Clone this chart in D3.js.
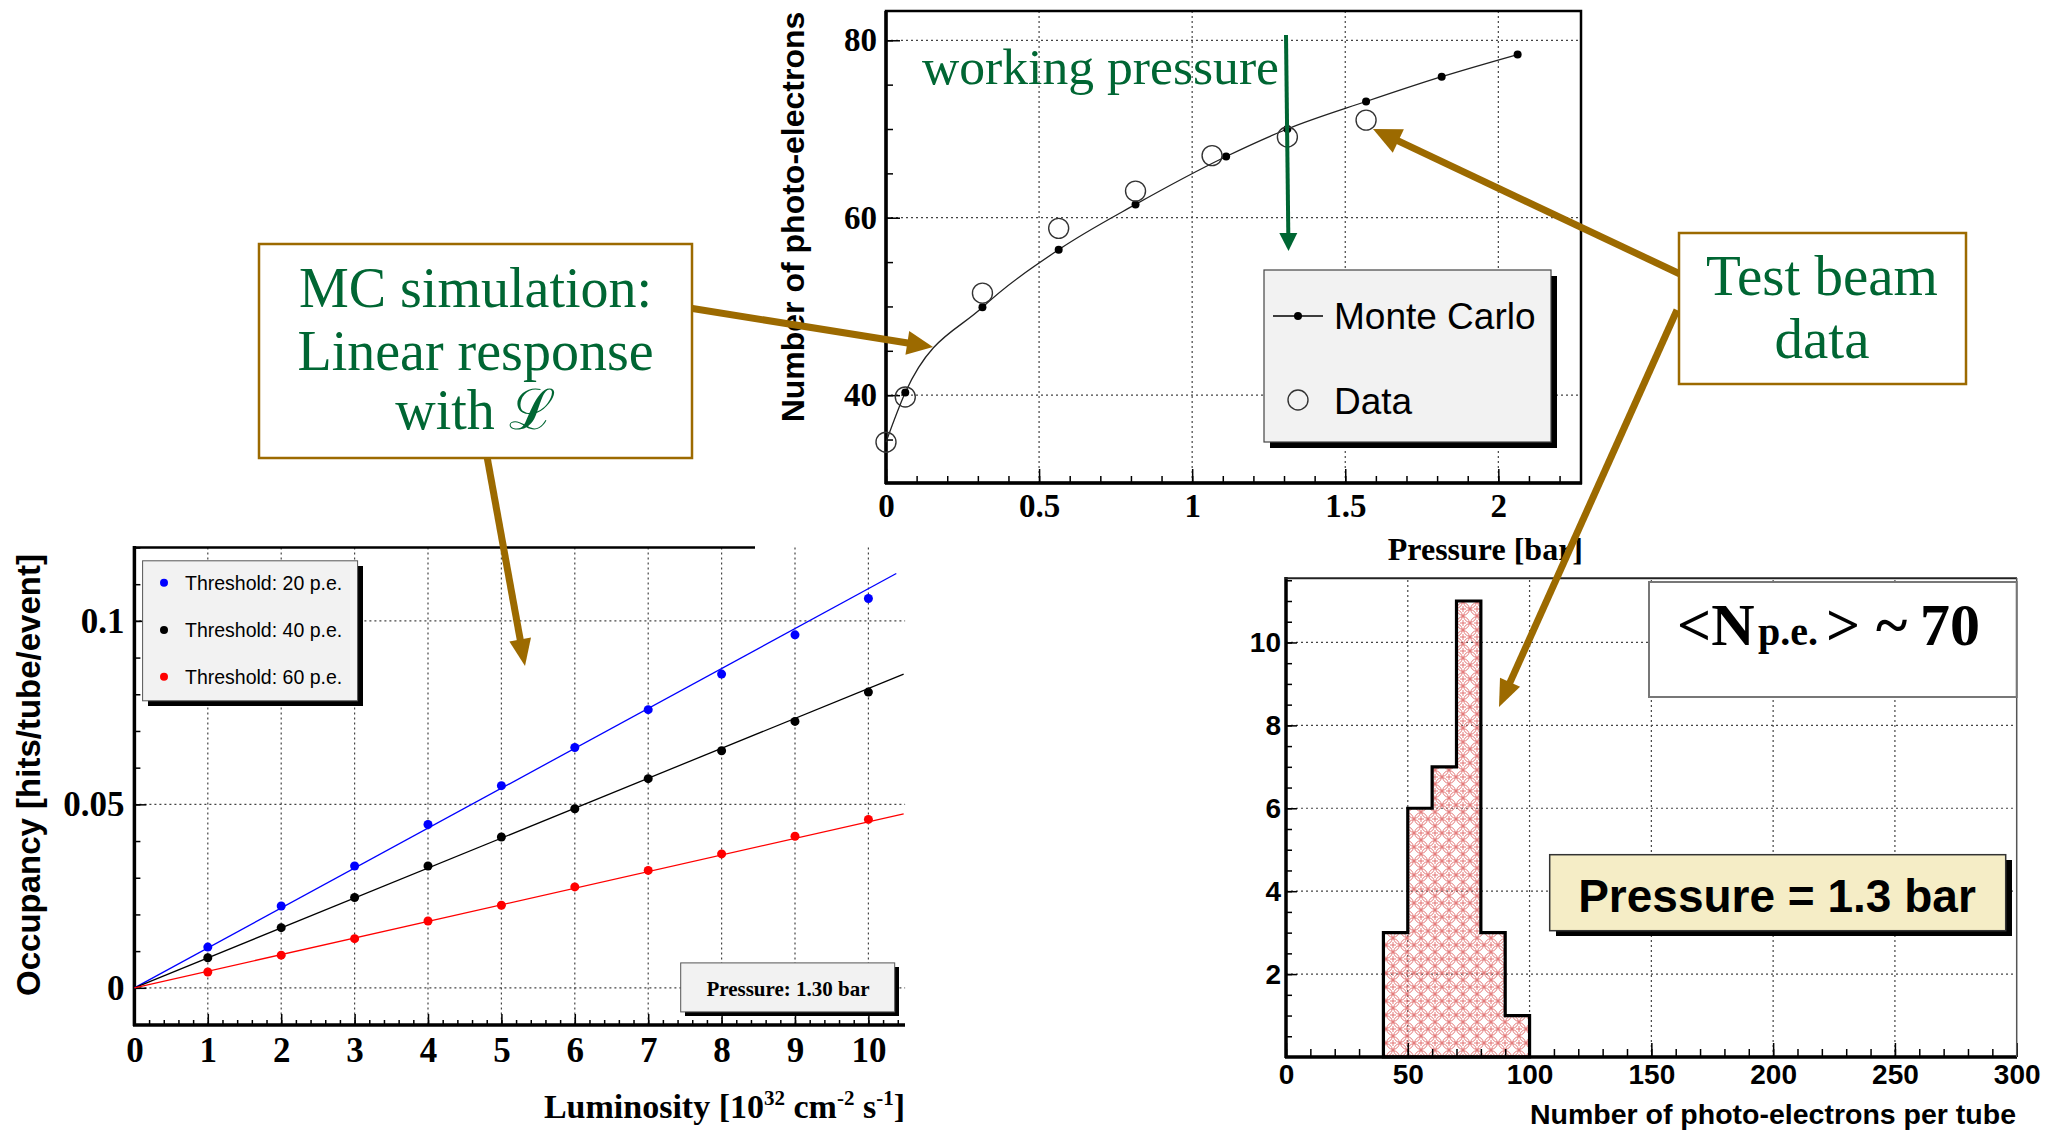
<!DOCTYPE html>
<html>
<head>
<meta charset="utf-8">
<script src="https://cdn.jsdelivr.net/npm/d3@7"></script>
<style>
  body { margin: 0; background: #fff; }
  svg { display: block; }
</style>
</head>
<body>
<div id="chart"></div>
<script>
// ---------- data: top panel (photo-electrons vs pressure)
const pressureTicks = [0, 0.5, 1, 1.5, 2];
const npeTicks = [40, 60, 80];
const mcPressure = [0, 0.063, 0.315, 0.564, 0.815, 1.111, 1.311, 1.568, 1.815, 2.063];
const mcNpe = [34.7, 40.3, 49.9, 56.4, 61.5, 66.9, 70.0, 73.1, 75.9, 78.4];
const dataPressure = [0, 0.063, 0.315, 0.564, 0.815, 1.065, 1.311, 1.568];
const dataNpe = [34.7, 39.8, 51.5, 58.8, 63.0, 67.0, 69.1, 71.0];

// ---------- data: bottom-left panel (occupancy vs luminosity)
const lumi = [1, 2, 3, 4, 5, 6, 7, 8, 9, 10];
const occ20 = [0.0111, 0.0223, 0.0332, 0.0445, 0.0551, 0.0655, 0.0758, 0.0855, 0.0962, 0.1061];
const occ40 = [0.0082, 0.0164, 0.0246, 0.0332, 0.0411, 0.0488, 0.0570, 0.0646, 0.0726, 0.0806];
const occ60 = [0.0043, 0.0089, 0.0134, 0.0182, 0.0225, 0.0275, 0.0320, 0.0365, 0.0413, 0.0459];
const thresholdLabels = ["Threshold: 20 p.e.", "Threshold: 40 p.e.", "Threshold: 60 p.e."];
const fitLumiEnd = [10.38, 10.48, 10.48];
const fitOccEnd = [0.1129, 0.0855, 0.0474];
const lumiTicks = [0, 1, 2, 3, 4, 5, 6, 7, 8, 9, 10];
const occTicks = [0, 0.05, 0.1];

// ---------- data: bottom-right panel (histogram)
const binLow = [40, 50, 60, 70, 80, 90];
const binHigh = [50, 60, 70, 80, 90, 100];
const binCount = [3, 6, 7, 11, 3, 1];
const npeAxisTicks = [0, 50, 100, 150, 200, 250, 300];
const countTicks = [2, 4, 6, 8, 10];

const serif = "'Liberation Serif','Times New Roman',serif";
const sans = "'Liberation Sans',Arial,sans-serif";
const green = "#006633";
const brown = "#9c6a00";

var svg = d3.select("#chart")
    .append("svg")
    .attr("width", 2059)
    .attr("height", 1132);

svg.append("rect").attr("width", 2059).attr("height", 1132).attr("fill", "#fff");

// hatch pattern for the histogram (ROOT style overlapping circles)
var defs = svg.append("defs");
var pat = defs.append("pattern")
    .attr("id", "circ")
    .attr("patternUnits", "userSpaceOnUse")
    .attr("x", 0).attr("y", 0)
    .attr("width", 14).attr("height", 14);
[[7, 7], [0, 0], [14, 0], [0, 14], [14, 14]].forEach(function (c) {
    pat.append("circle").attr("cx", c[0]).attr("cy", c[1]).attr("r", 6.3)
        .attr("fill", "none").attr("stroke", "#e06868").attr("stroke-width", 0.9);
});
pat.append("path").attr("d", "M7,4 V10 M4,7 H10")
    .attr("stroke", "#e06868").attr("stroke-width", 0.9);

// small helper: draw a d3 axis in ROOT look
function drawAxis(g, axis, tr, font, size) {
    var a = g.append("g").attr("transform", tr).call(axis);
    a.select(".domain").remove();
    a.selectAll(".tick line").attr("stroke", "#000").attr("stroke-width", 1.5);
    a.selectAll(".tick text")
        .attr("fill", "#000")
        .style("font-family", font)
        .style("font-size", size + "px")
        .style("font-weight", "bold");
    return a;
}

function gridLines(g, xs, ys, x, y) {
    g.selectAll(null).data(xs).enter().append("line")
        .attr("x1", d => x(d)).attr("x2", d => x(d))
        .attr("y1", y.range()[0]).attr("y2", y.range()[1])
        .attr("stroke", "#444").attr("stroke-width", 1.2).attr("stroke-dasharray", "2,3");
    g.selectAll(null).data(ys).enter().append("line")
        .attr("y1", d => y(d)).attr("y2", d => y(d))
        .attr("x1", x.range()[0]).attr("x2", x.range()[1])
        .attr("stroke", "#444").attr("stroke-width", 1.2).attr("stroke-dasharray", "2,3");
}

// =====================================================================
// TOP PANEL
// =====================================================================
var px = d3.scaleLinear().domain([0, 2.27]).range([886, 1581]);
var py = d3.scaleLinear().domain([30.1, 83.3]).range([483, 11]);
var topG = svg.append("g");

gridLines(topG, pressureTicks.slice(1), npeTicks, px, py);

// minor + major ticks
drawAxis(topG, d3.axisBottom(px).tickValues(d3.range(0, 2.27, 0.1)).tickSize(-7).tickFormat(""), "translate(0,483)", serif, 33);
drawAxis(topG, d3.axisBottom(px).tickValues(pressureTicks).tickSize(-14).tickPadding(11).tickFormat(d => String(d)), "translate(0,483)", serif, 33);
drawAxis(topG, d3.axisLeft(py).tickValues(d3.range(35, 84, 5)).tickSize(-7).tickFormat(""), "translate(886,0)", serif, 33);
drawAxis(topG, d3.axisLeft(py).tickValues(npeTicks).tickSize(-14).tickPadding(9), "translate(886,0)", serif, 33);

// frame
topG.append("rect").attr("x", 886).attr("y", 11).attr("width", 695).attr("height", 472)
    .attr("fill", "none").attr("stroke", "#000").attr("stroke-width", 2.5);
topG.append("line").attr("x1", 886).attr("x2", 886).attr("y1", 11).attr("y2", 484)
    .attr("stroke", "#000").attr("stroke-width", 3.5);
topG.append("line").attr("x1", 885).attr("x2", 1582).attr("y1", 483).attr("y2", 483)
    .attr("stroke", "#000").attr("stroke-width", 3.5);

// MC curve
var mcPts = mcPressure.map((p, i) => ({ p: p, n: mcNpe[i] }));
topG.append("path")
    .datum(mcPts)
    .attr("d", d3.line().x(d => px(d.p)).y(d => py(d.n)).curve(d3.curveMonotoneX))
    .attr("fill", "none").attr("stroke", "#222").attr("stroke-width", 1.3);
topG.selectAll(null).data(mcPts.filter(d => d.p > 0)).enter().append("circle")
    .attr("cx", d => px(d.p)).attr("cy", d => py(d.n)).attr("r", 4).attr("fill", "#000");

// test beam data
topG.selectAll(null).data(dataPressure).enter().append("circle")
    .attr("cx", d => px(d)).attr("cy", (d, i) => py(dataNpe[i])).attr("r", 10)
    .attr("fill", "none").attr("stroke", "#333").attr("stroke-width", 1.4);

// legend
topG.append("rect").attr("x", 1270).attr("y", 276).attr("width", 287).attr("height", 172).attr("fill", "#000");
topG.append("rect").attr("x", 1264).attr("y", 270).attr("width", 287).attr("height", 172)
    .attr("fill", "#f2f2f2").attr("stroke", "#444").attr("stroke-width", 1.2);
topG.append("line").attr("x1", 1273).attr("x2", 1323).attr("y1", 316).attr("y2", 316).attr("stroke", "#000").attr("stroke-width", 1.5);
topG.append("circle").attr("cx", 1298).attr("cy", 316).attr("r", 4).attr("fill", "#000");
topG.append("circle").attr("cx", 1298).attr("cy", 400).attr("r", 10).attr("fill", "none").attr("stroke", "#333").attr("stroke-width", 1.4);
topG.selectAll(null).data(["Monte Carlo", "Data"]).enter().append("text")
    .attr("x", 1334).attr("y", (d, i) => [329, 414][i])
    .style("font-family", sans).style("font-size", "37px")
    .text(d => d);

// axis titles
topG.append("text")
    .attr("transform", "translate(804,217) rotate(-90)")
    .attr("text-anchor", "middle")
    .style("font-family", sans).style("font-weight", "bold").style("font-size", "32px")
    .text("Number of photo-electrons");
topG.append("text")
    .attr("x", 1583).attr("y", 560).attr("text-anchor", "end")
    .style("font-family", serif).style("font-weight", "bold").style("font-size", "32px")
    .text("Pressure [bar]");

// =====================================================================
// BOTTOM-LEFT PANEL
// =====================================================================
var lx = d3.scaleLinear().domain([0, 10.5]).range([134.4, 905.1]);
var ly = d3.scaleLinear().domain([-0.01, 0.12]).range([1024.5, 547.5]);
var blG = svg.append("g");

gridLines(blG, lumiTicks.slice(1), occTicks, lx, ly);

drawAxis(blG, d3.axisBottom(lx).tickValues(d3.range(0, 10.5, 0.2)).tickSize(-5).tickFormat(""), "translate(0,1025)", serif, 35);
drawAxis(blG, d3.axisBottom(lx).tickValues(lumiTicks).tickSize(-11).tickPadding(12).tickFormat(d => String(d)), "translate(0,1025)", serif, 35);
drawAxis(blG, d3.axisLeft(ly).tickValues(d3.range(-0.01, 0.121, 0.01)).tickSize(-6).tickFormat(""), "translate(134.4,0)", serif, 35);
drawAxis(blG, d3.axisLeft(ly).tickValues(occTicks).tickSize(-12).tickPadding(10).tickFormat(d => String(d)), "translate(134.4,0)", serif, 35);

blG.append("line").attr("x1", 134.4).attr("x2", 134.4).attr("y1", 546).attr("y2", 1026).attr("stroke", "#000").attr("stroke-width", 3.5);
blG.append("line").attr("x1", 133).attr("x2", 905).attr("y1", 1025).attr("y2", 1025).attr("stroke", "#000").attr("stroke-width", 3.5);
blG.append("line").attr("x1", 133).attr("x2", 755).attr("y1", 547.5).attr("y2", 547.5).attr("stroke", "#000").attr("stroke-width", 2.5);

var series = [
    { vals: occ20, color: "#0000ff" },
    { vals: occ40, color: "#000000" },
    { vals: occ60, color: "#ff0000" }
];
series.forEach(function (s, k) {
    // linear fit line from the origin
    blG.append("line")
        .attr("x1", lx(0)).attr("y1", ly(0))
        .attr("x2", lx(fitLumiEnd[k])).attr("y2", ly(fitOccEnd[k]))
        .attr("stroke", s.color).attr("stroke-width", 1.3);
    blG.selectAll(null).data(lumi).enter().append("circle")
        .attr("cx", d => lx(d)).attr("cy", (d, i) => ly(s.vals[i])).attr("r", 4.5)
        .attr("fill", s.color);
});

// legend
blG.append("rect").attr("x", 148).attr("y", 566).attr("width", 215).attr("height", 140).attr("fill", "#000");
blG.append("rect").attr("x", 142.6).attr("y", 560.8).attr("width", 215).attr("height", 140)
    .attr("fill", "#f2f2f2").attr("stroke", "#555").attr("stroke-width", 1);
thresholdLabels.forEach(function (t, i) {
    var cy = [582.7, 629.9, 676.7][i];
    blG.append("circle").attr("cx", 164).attr("cy", cy).attr("r", 4).attr("fill", series[i].color);
    blG.append("text").attr("x", 185).attr("y", cy + 7)
        .style("font-family", sans).style("font-size", "19.5px").text(t);
});

// pressure label
blG.append("rect").attr("x", 685).attr("y", 967).attr("width", 214).attr("height", 49).attr("fill", "#000");
blG.append("rect").attr("x", 680.7).attr("y", 962.9).attr("width", 214).attr("height", 49)
    .attr("fill", "#f2f2f2").attr("stroke", "#555").attr("stroke-width", 1);
blG.append("text").attr("x", 788).attr("y", 996).attr("text-anchor", "middle")
    .style("font-family", serif).style("font-weight", "bold").style("font-size", "21px")
    .text("Pressure: 1.30 bar");

// axis titles
blG.append("text")
    .attr("transform", "translate(40,775) rotate(-90)")
    .attr("text-anchor", "middle")
    .style("font-family", sans).style("font-weight", "bold").style("font-size", "33px")
    .text("Occupancy [hits/tube/event]");
var lt = blG.append("text")
    .attr("x", 905).attr("y", 1118).attr("text-anchor", "end")
    .style("font-family", serif).style("font-weight", "bold").style("font-size", "34px");
lt.append("tspan").text("Luminosity [10");
lt.append("tspan").attr("dy", -13).style("font-size", "21px").text("32");
lt.append("tspan").attr("dy", 13).text(" cm");
lt.append("tspan").attr("dy", -13).style("font-size", "21px").text("-2");
lt.append("tspan").attr("dy", 13).text(" s");
lt.append("tspan").attr("dy", -13).style("font-size", "21px").text("-1");
lt.append("tspan").attr("dy", 13).text("]");

// =====================================================================
// BOTTOM-RIGHT PANEL (histogram)
// =====================================================================
var hx = d3.scaleLinear().domain([0, 300]).range([1286, 2016.7]);
var hy = d3.scaleLinear().domain([0, 11.55]).range([1057, 578.2]);
var hG = svg.append("g");

gridLines(hG, npeAxisTicks.slice(1, 6), countTicks, hx, hy);

// histogram outline
var hPath = d3.path();
hPath.moveTo(hx(binLow[0]), hy(0));
binLow.forEach(function (lo, i) {
    hPath.lineTo(hx(lo), hy(binCount[i]));
    hPath.lineTo(hx(binHigh[i]), hy(binCount[i]));
});
hPath.lineTo(hx(binHigh[binHigh.length - 1]), hy(0));
hPath.closePath();
hG.append("path").attr("d", hPath.toString()).attr("fill", "url(#circ)").attr("stroke", "none");
hG.append("path").attr("d", hPath.toString()).attr("fill", "none").attr("stroke", "#000").attr("stroke-width", 3.2);

drawAxis(hG, d3.axisBottom(hx).tickValues(d3.range(0, 301, 10)).tickSize(-8).tickFormat(""), "translate(0,1057)", sans, 28);
drawAxis(hG, d3.axisBottom(hx).tickValues(npeAxisTicks).tickSize(-14).tickPadding(7), "translate(0,1057)", sans, 28);
drawAxis(hG, d3.axisLeft(hy).tickValues(d3.range(0.5, 11.6, 0.5)).tickSize(-6).tickFormat(""), "translate(1286,0)", sans, 28);
drawAxis(hG, d3.axisLeft(hy).tickValues(countTicks).tickSize(-11).tickPadding(5), "translate(1286,0)", sans, 28);

hG.append("line").attr("x1", 1286).attr("x2", 1286).attr("y1", 577).attr("y2", 1058).attr("stroke", "#000").attr("stroke-width", 3.5);
hG.append("line").attr("x1", 1285).attr("x2", 2017).attr("y1", 1057).attr("y2", 1057).attr("stroke", "#000").attr("stroke-width", 3.5);
hG.append("line").attr("x1", 1285).attr("x2", 2017).attr("y1", 578.2).attr("y2", 578.2).attr("stroke", "#222").attr("stroke-width", 2);
hG.append("line").attr("x1", 2016.7).attr("x2", 2016.7).attr("y1", 578).attr("y2", 1057).attr("stroke", "#555").attr("stroke-width", 1.5);

// <N p.e.> box
hG.append("rect").attr("x", 1649).attr("y", 582).attr("width", 367.7).attr("height", 115)
    .attr("fill", "#fff").attr("stroke", "#777").attr("stroke-width", 2);
var nt = hG.append("text").attr("y", 645)
    .style("font-family", serif).style("font-weight", "bold").style("font-size", "60px");
nt.append("tspan").attr("x", 1677).text("<N");
nt.append("tspan").attr("x", 1758).style("font-size", "40px").text("p.e.");
nt.append("tspan").attr("x", 1826).text(">");
nt.append("tspan").attr("x", 1876).text("~");
nt.append("tspan").attr("x", 1920).text("70");

// pressure box
hG.append("rect").attr("x", 1556).attr("y", 860).attr("width", 456).attr("height", 76).attr("fill", "#000");
hG.append("rect").attr("x", 1549.7).attr("y", 854.7).attr("width", 456).attr("height", 76)
    .attr("fill", "#f5edc6").attr("stroke", "#333").attr("stroke-width", 1.5);
hG.append("text").attr("x", 1777).attr("y", 912).attr("text-anchor", "middle")
    .style("font-family", sans).style("font-weight", "bold").style("font-size", "46px")
    .text("Pressure = 1.3 bar");

hG.append("text")
    .attr("x", 2016).attr("y", 1124).attr("text-anchor", "end")
    .style("font-family", sans).style("font-weight", "bold").style("font-size", "28.5px")
    .text("Number of photo-electrons per tube");

// =====================================================================
// ANNOTATIONS
// =====================================================================
function arrow(g, x1, y1, x2, y2, w, headLen, headW, color) {
    var dx = x2 - x1, dy = y2 - y1, L = Math.sqrt(dx * dx + dy * dy);
    var ux = dx / L, uy = dy / L;
    var bx = x2 - ux * headLen, by = y2 - uy * headLen;
    g.append("line").attr("x1", x1).attr("y1", y1).attr("x2", bx + ux * 2).attr("y2", by + uy * 2)
        .attr("stroke", color).attr("stroke-width", w);
    g.append("path")
        .attr("d", "M" + x2 + "," + y2 +
            "L" + (bx - uy * headW / 2) + "," + (by + ux * headW / 2) +
            "L" + (bx + uy * headW / 2) + "," + (by - ux * headW / 2) + "Z")
        .attr("fill", color);
}

var ann = svg.append("g");

// working pressure
ann.append("text").attr("x", 922).attr("y", 84)
    .attr("textLength", 357).attr("lengthAdjust", "spacingAndGlyphs")
    .style("font-family", serif).style("font-size", "50px").attr("fill", green)
    .text("working pressure");
arrow(ann, 1286, 35, 1288.5, 251, 4, 18, 18, green);

// brown arrows
arrow(ann, 677, 306, 933, 347, 7, 26, 24, brown);
arrow(ann, 484, 440, 525, 666, 7, 27, 22, brown);
arrow(ann, 1680, 274, 1373, 129, 7, 28, 26, brown);
arrow(ann, 1677, 310, 1499, 707, 7, 27, 22, brown);

// MC simulation box
ann.append("rect").attr("x", 259).attr("y", 244).attr("width", 433).attr("height", 214)
    .attr("fill", "#fff").attr("stroke", brown).attr("stroke-width", 2.5);
ann.selectAll(null).data(["MC simulation:", "Linear response", "with \u2112"]).enter().append("text")
    .attr("x", 475.5).attr("y", (d, i) => [307, 370, 429][i]).attr("text-anchor", "middle")
    .style("font-family", serif).style("font-size", "56px").attr("fill", green)
    .text(d => d);

// Test beam box
ann.append("rect").attr("x", 1679).attr("y", 233).attr("width", 287).attr("height", 151)
    .attr("fill", "#fff").attr("stroke", brown).attr("stroke-width", 2.5);
ann.selectAll(null).data(["Test beam", "data"]).enter().append("text")
    .attr("x", 1822).attr("y", (d, i) => [295, 358][i]).attr("text-anchor", "middle")
    .style("font-family", serif).style("font-size", "57px").attr("fill", green)
    .text(d => d);
</script>
</body>
</html>
